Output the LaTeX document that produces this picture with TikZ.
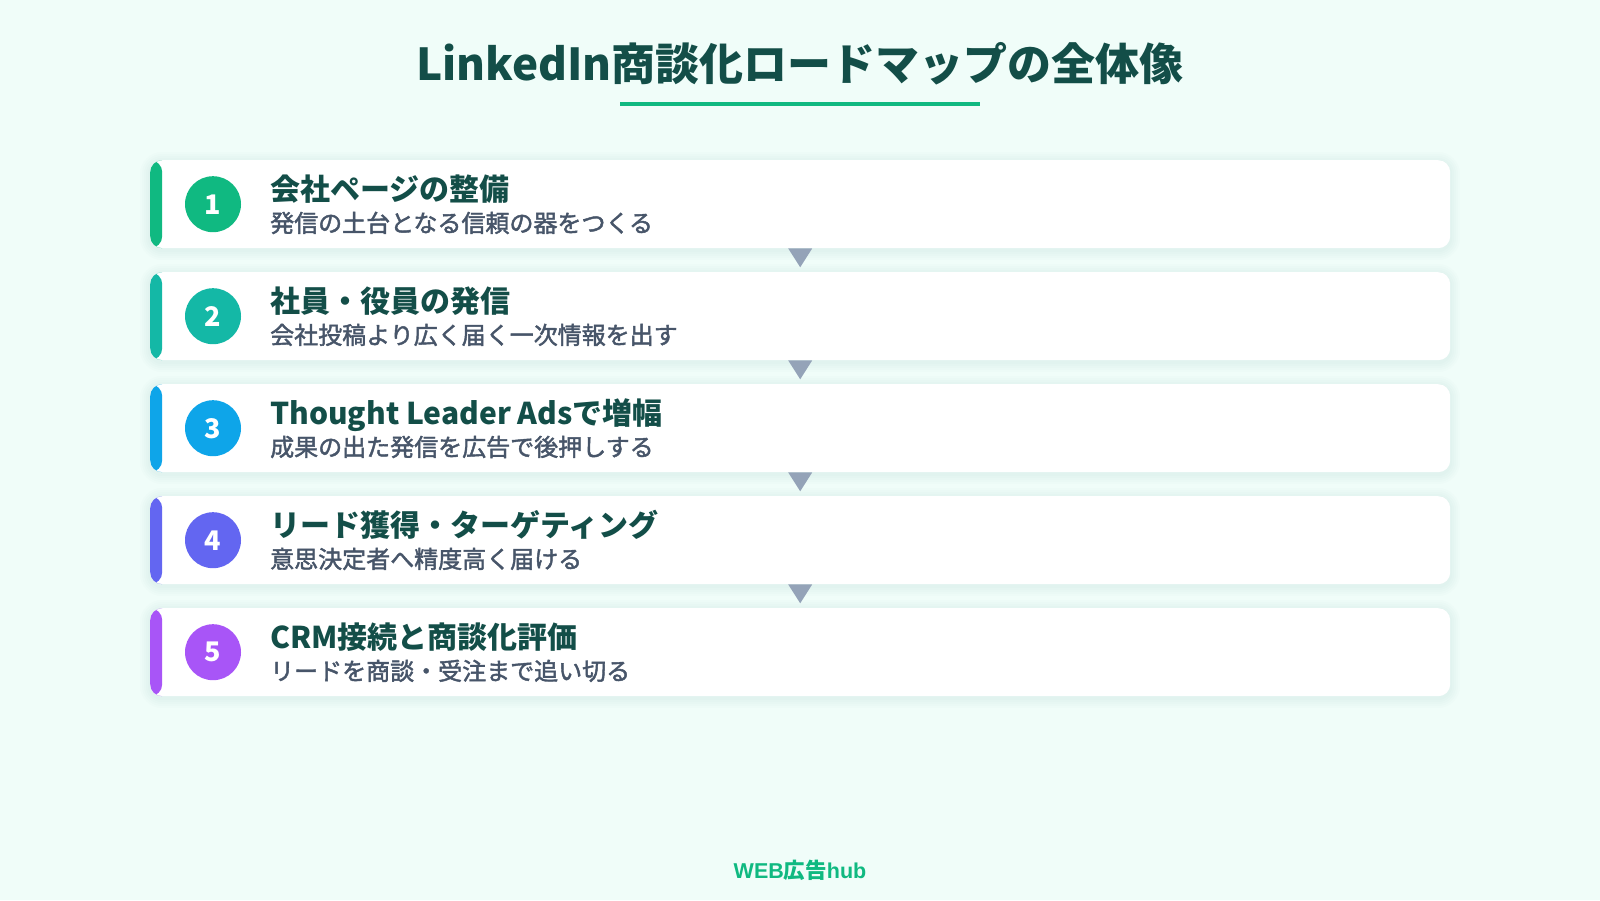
\documentclass[tikz,border=0pt]{standalone}
\usepackage{fontspec}
\setmainfont{Noto Sans CJK JP}
\newfontfamily\jpmedium{Noto Sans CJK JP}[FakeBold=1.8]
\newfontfamily\brandlatin{Liberation Sans}
\usetikzlibrary{calc}
\definecolor{bgmint}{HTML}{F0FDF9}
\definecolor{headgreen}{HTML}{134E48}
\definecolor{subgray}{HTML}{475569}
\definecolor{arrowgray}{HTML}{94A3B8}
\definecolor{shadowgreen}{HTML}{2F6B5A}
\definecolor{stepA}{HTML}{10B981}
\definecolor{stepB}{HTML}{14B8A6}
\definecolor{stepC}{HTML}{0EA5E9}
\definecolor{stepD}{HTML}{6366F1}
\definecolor{stepE}{HTML}{A855F7}
\newcommand{\pxfont}[1]{\fontsize{#1}{#1}\selectfont}

\begin{document}
\begin{tikzpicture}[x=1pt, y=-1pt]
    \tikzstyle{card} = [rectangle, rounded corners=12pt, fill=white, minimum width=1300pt, minimum height=88pt, inner sep=0pt, anchor=north west]
    \tikzstyle{badge} = [circle, minimum size=56pt, inner sep=0pt, text=white, font=\bfseries\pxfont{27}]
    \tikzstyle{headline} = [anchor=base west, inner sep=0pt, text=headgreen, font=\bfseries\pxfont{30}]
    \tikzstyle{subline} = [anchor=base west, inner sep=0pt, text=subgray, font=\jpmedium\pxfont{24}]
    \tikzstyle{marker} = [fill=arrowgray]

    \fill[bgmint] (0, 0) rectangle (1600, 900);
    \useasboundingbox (0, 0) rectangle (1600, 900);

    % title
    \node[anchor=base, inner sep=0pt, text=headgreen, font=\bfseries\pxfont{44}] (title) at (800, 80) {LinkedIn商談化ロードマップの全体像};
    \draw[stepA, line width=4pt] (620, 104) -- (980, 104);

    % steps
    \foreach \i/\accent/\head/\sub in {
        1/stepA/{会社ページの整備}/{発信の土台となる信頼の器をつくる},
        2/stepB/{社員・役員の発信}/{会社投稿より広く届く一次情報を出す},
        3/stepC/{Thought Leader Adsで増幅}/{成果の出た発信を広告で後押しする},
        4/stepD/{リード獲得・ターゲティング}/{意思決定者へ精度高く届ける},
        5/stepE/{CRM接続と商談化評価}/{リードを商談・受注まで追い切る}} {
        \pgfmathsetmacro{\top}{160 + 112*(\i - 1)}
        \foreach \k in {2, 4, 6, 8, 10} {
            \fill[shadowgreen, opacity=0.012, rounded corners=12pt+\k pt] (150 - \k, \top - \k + 2) rectangle (1450 + \k, \top + 88 + \k + 2);
        }
        \node[card, path picture={\fill[\accent] (path picture bounding box.north west) rectangle ($(path picture bounding box.south west) + (12, 0)$);}] (card\i) at (150, \top) {};
        \node[badge, fill=\accent] (num\i) at ($(card\i.west) + (63, 0)$) {\i};
        \node[headline] (head\i) at ($(card\i.north west) + (120, 40)$) {\head};
        \node[subline] (sub\i) at ($(card\i.north west) + (120, 72)$) {\sub};
    }

    % markers between the cards
    \foreach \i/\j in {1/2, 2/3, 3/4, 4/5} {
        \fill[marker] ($(card\i.south) + (-12, 0)$) -- ($(card\i.south) + (12, 0)$) -- ($(card\i.south)!0.8!(card\j.north)$) -- cycle;
    }

    % footer
    \node[anchor=base, inner sep=0pt, text=stepA, font=\bfseries\pxfont{21.5}] (brand) at (800, 878) {{\brandlatin WEB}広告{\brandlatin hub}};
\end{tikzpicture}
\end{document}
